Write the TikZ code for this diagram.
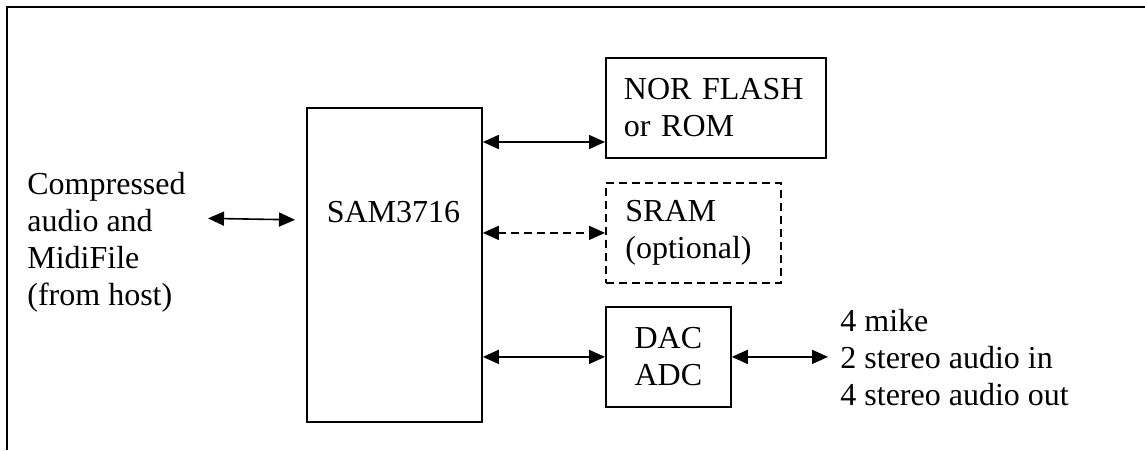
\documentclass[tikz,border=0pt]{standalone}
\usepackage{fontspec}
\setmainfont{Liberation Serif}
\usetikzlibrary{arrows.meta}

\begin{document}
\begin{tikzpicture}[
  x=0.5pt, y=-0.5pt,
  every node/.style={font=\fontsize{16}{18.4}\selectfont},
  block/.style={draw, line width=0.9pt, inner ysep=0pt},
  biarrow/.style={line width=0.8pt, {Triangle[length=8pt,width=7pt]}-{Triangle[length=8pt,width=7pt]}}]

  \useasboundingbox (0,0) rectangle (1145,450);
  % frame
  \draw[line width=1pt] (7,450) -- (7,7) -- (1145,7);

  \node[block, anchor=north west, minimum width=87.5pt, minimum height=157pt] (sam) at (306,107) {};
  \node[anchor=base] (samtext) at (393.5,222) {SAM3716};

  \node[block, anchor=north west, minimum width=110pt, minimum height=50pt,
        text width=92pt, align=left, inner xsep=9pt] (nor) at (605,57) {NOR FLASH\\or ROM};
  \node[block, dashed, dash pattern=on 4pt off 2.5pt, anchor=north west, minimum width=87.5pt, minimum height=50pt,
        text width=68pt, align=left, inner xsep=9.5pt] (sram) at (605,182) {SRAM\\(optional)};
  \node[block, anchor=north west, minimum width=62.5pt, minimum height=50pt, align=center] (dac) at (605,306) {DAC\\ADC};

  % last line baselines
  \node[anchor=base west, align=left, inner sep=0pt] (host) at (27,305) {Compressed\\audio and\\MidiFile\\(from host)};
  \node[anchor=base west, align=left, inner sep=0pt] (io) at (840,405) {4 mike\\2 stereo audio in\\4 stereo audio out};

  \draw[biarrow, shorten <=11pt, shorten >=5.5pt] (host.east |- 0,218) -- (sam.west |- 0,220);
  \draw[biarrow] (sam.east |- 0,142) -- (nor.west |- 0,142);
  \draw[biarrow, dashed, dash pattern=on 4pt off 2.5pt] (sam.east |- sram.west) -- (sram.west);
  \draw[biarrow] (sam.east |- dac.west) -- (dac.west);
  \draw[biarrow, shorten >=6pt] (dac.east) -- (io.west |- dac.east);
\end{tikzpicture}
\end{document}
